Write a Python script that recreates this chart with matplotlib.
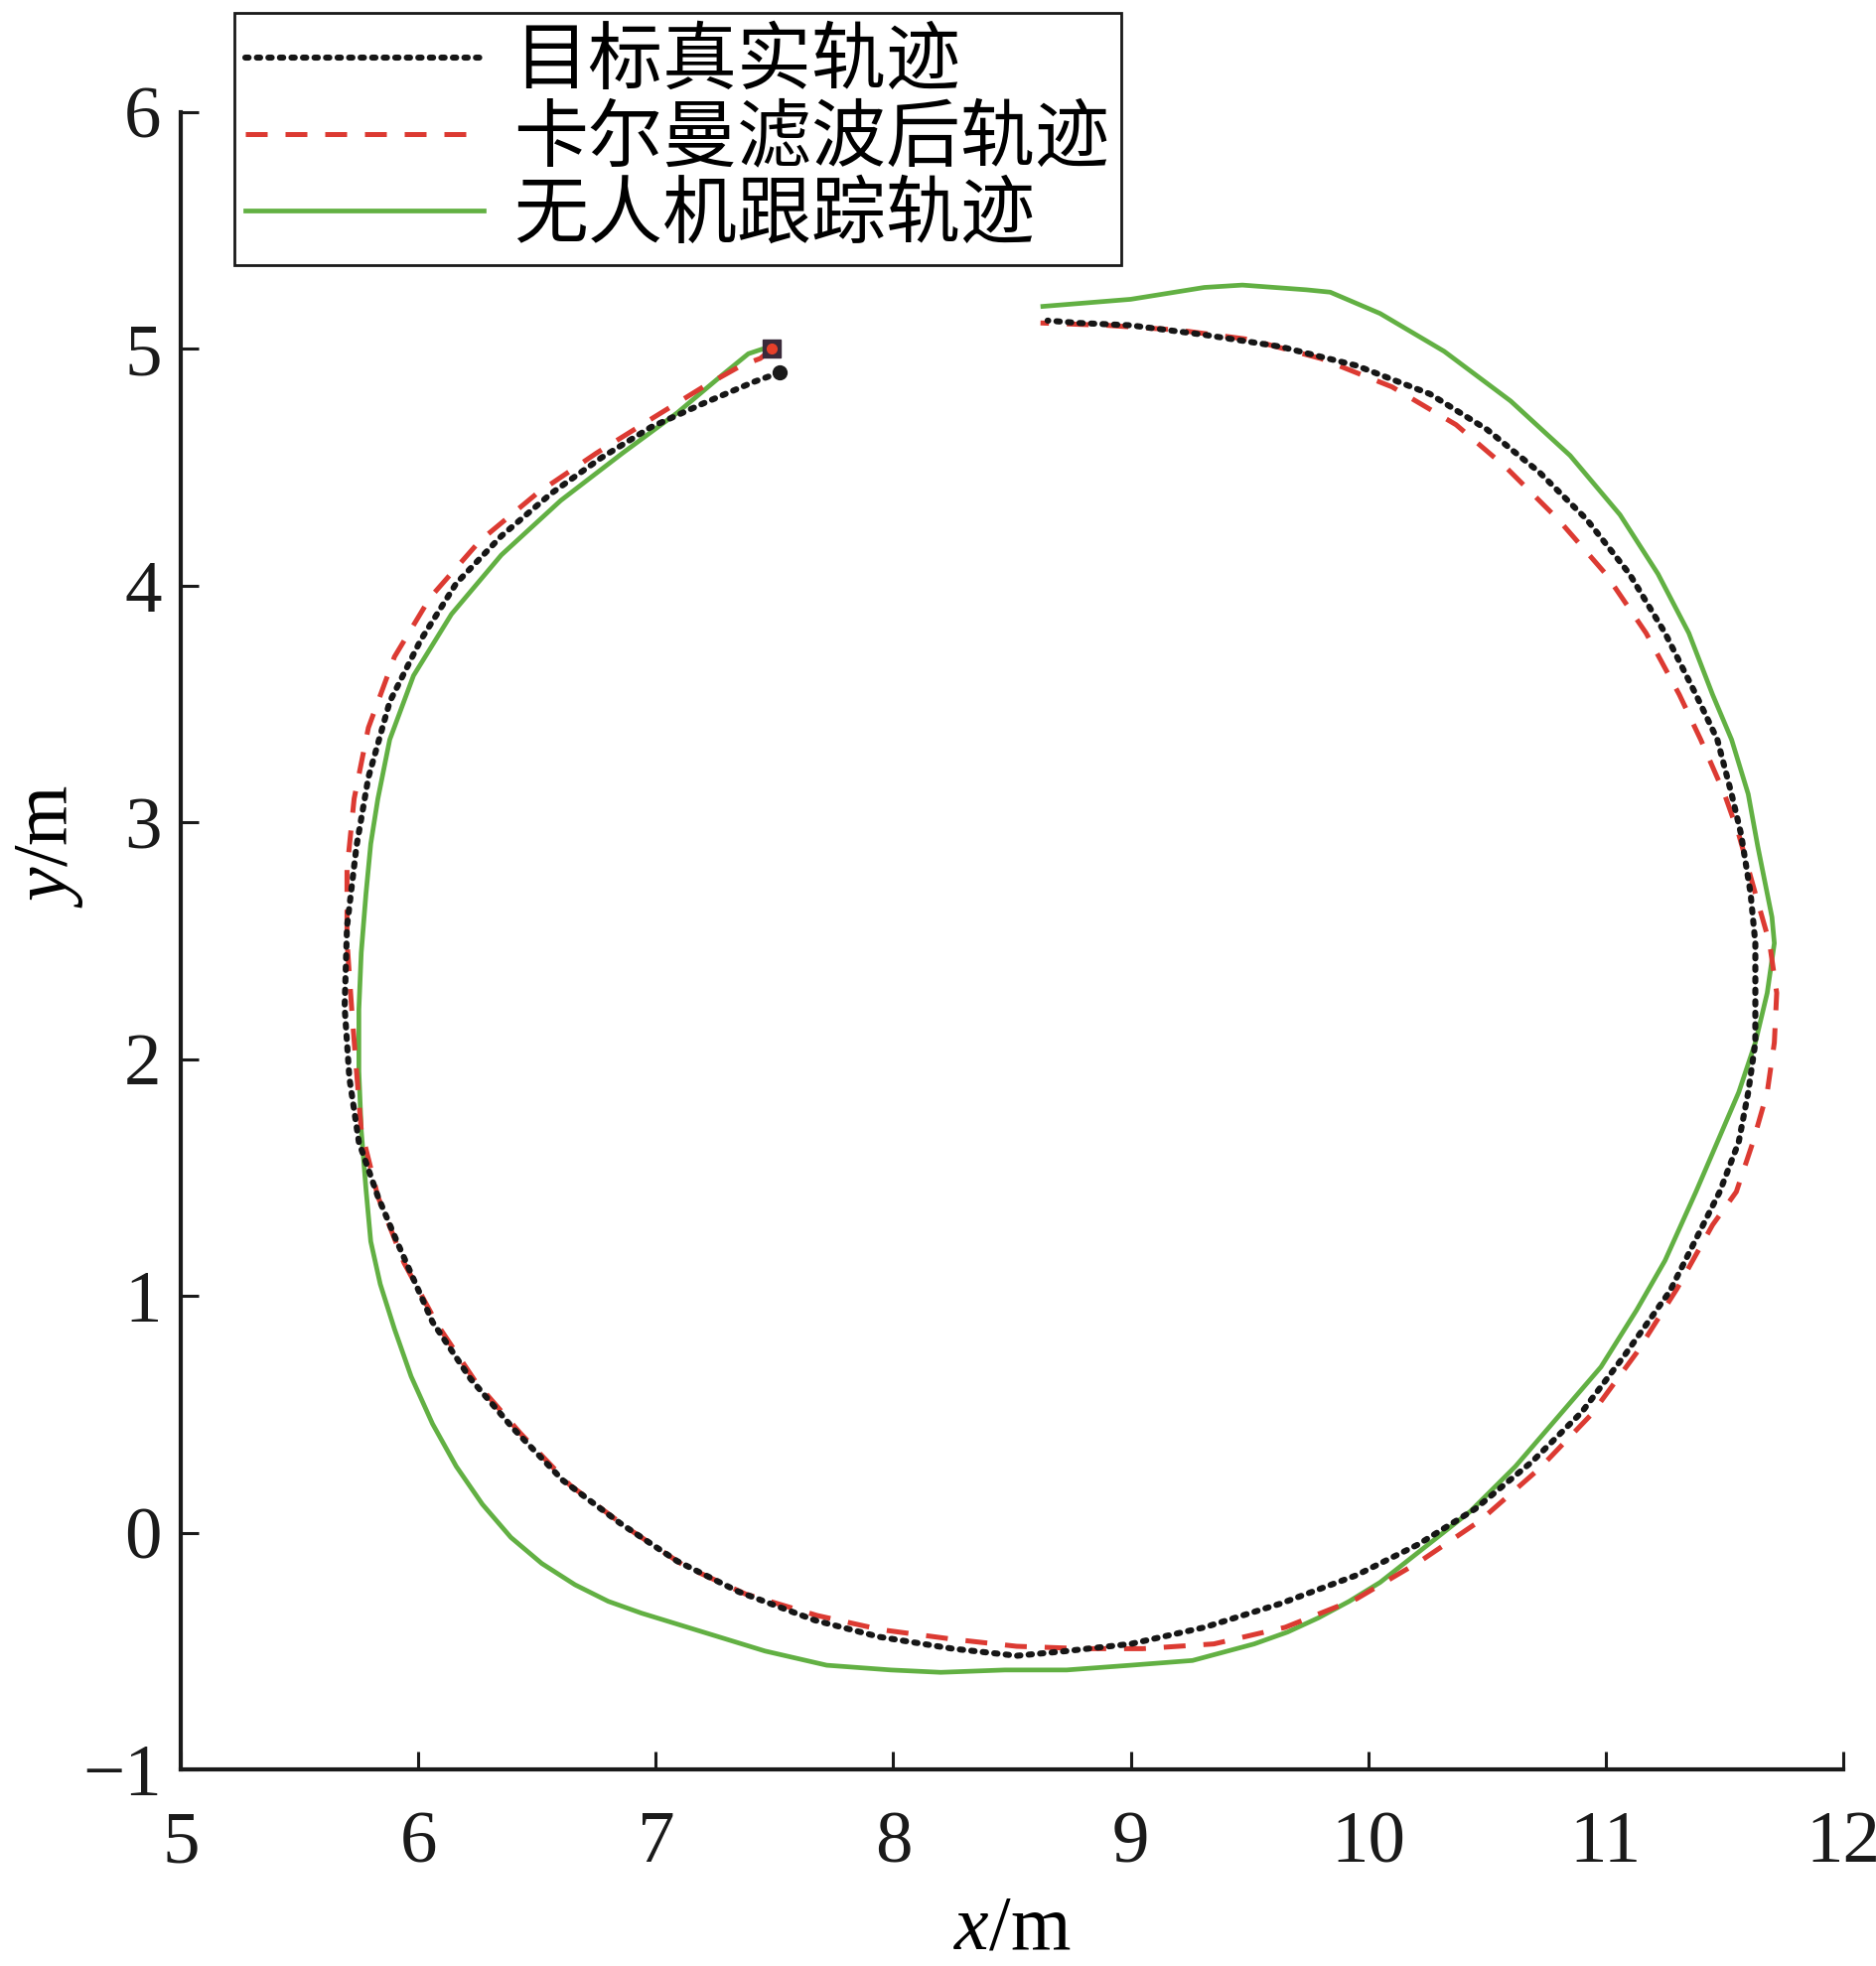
import matplotlib
matplotlib.use("Agg")
import matplotlib.pyplot as plt
import numpy as np

plt.rcParams['font.family'] = ['Liberation Serif', 'DejaVu Serif']
plt.rcParams['mathtext.fontset'] = 'custom'
plt.rcParams['mathtext.rm'] = 'Liberation Serif'
plt.rcParams['mathtext.it'] = 'Liberation Serif:italic'

# target true trajectory
true_x = [7.52, 7.41, 7.20, 6.98, 6.77, 6.56, 6.35, 6.16, 6.01, 5.88, 5.79, 5.74, 5.70, 5.69,
          5.71, 5.75, 5.83, 5.91, 6.06, 6.22, 6.40, 6.61, 6.85, 7.09, 7.35, 7.67, 7.94, 8.25,
          8.52, 8.73, 9.00, 9.31, 9.63, 9.95, 10.21, 10.45, 10.69, 10.90, 11.08, 11.27, 11.40,
          11.48, 11.56, 11.60, 11.63, 11.63, 11.63, 11.61, 11.57, 11.53, 11.47, 11.38, 11.25,
          11.10, 10.92, 10.72, 10.50, 10.26, 9.95, 9.63, 9.31, 9.00, 8.78, 8.65]
true_y = [4.90, 4.86, 4.77, 4.67, 4.54, 4.39, 4.21, 4.01, 3.77, 3.51, 3.19, 2.90, 2.56, 2.22,
          1.92, 1.65, 1.42, 1.23, 0.89, 0.65, 0.44, 0.22, 0.04, -0.12, -0.25, -0.37, -0.44, -0.49,
          -0.52, -0.50, -0.47, -0.40, -0.30, -0.18, -0.05, 0.10, 0.30, 0.51, 0.75, 1.02, 1.28,
          1.44, 1.65, 1.86, 2.07, 2.28, 2.49, 2.70, 2.95, 3.12, 3.35, 3.54, 3.80,
          4.05, 4.28, 4.48, 4.66, 4.81, 4.93, 5.01, 5.06, 5.10, 5.11, 5.12]

# Kalman filtered trajectory
kf_x = [7.49, 7.44, 7.36, 7.20, 6.99, 6.75, 6.50, 6.26, 6.05, 5.90, 5.79, 5.73, 5.70, 5.70,
        5.72, 5.74, 5.76, 5.83, 5.94, 6.08, 6.24, 6.43, 6.64, 6.88, 7.12, 7.38, 7.68, 7.95,
        8.25, 8.52, 8.80, 9.05, 9.35, 9.65, 9.95, 10.22, 10.47, 10.72, 10.94, 11.13, 11.30,
        11.45, 11.55, 11.62, 11.68, 11.71, 11.72, 11.69, 11.63, 11.56, 11.50, 11.40, 11.31,
        11.17, 11.00, 10.80, 10.58, 10.37, 10.10, 9.80, 9.50, 9.20, 8.90, 8.62]
kf_y = [5.00, 4.96, 4.93, 4.84, 4.71, 4.56, 4.39, 4.19, 3.95, 3.70, 3.40, 3.10, 2.80, 2.50,
        2.21, 1.95, 1.70, 1.42, 1.14, 0.88, 0.64, 0.42, 0.20, 0.02, -0.14, -0.26, -0.35, -0.41,
        -0.45, -0.48, -0.49, -0.49, -0.47, -0.40, -0.28, -0.12, 0.05, 0.27, 0.50, 0.76, 1.03,
        1.30, 1.44, 1.65, 1.86, 2.07, 2.28, 2.49, 2.70, 2.95, 3.12, 3.35, 3.54,
        3.80, 4.05, 4.28, 4.50, 4.68, 4.84, 4.96, 5.04, 5.08, 5.10, 5.11]

# UAV tracking trajectory
uav_x = [7.50, 7.45, 7.39, 7.28, 7.09, 6.86, 6.60, 6.35, 6.14, 5.98, 5.88, 5.83, 5.80, 5.78,
         5.76, 5.75, 5.75, 5.76, 5.78, 5.80, 5.84, 5.90, 5.97, 6.06, 6.16, 6.27, 6.39, 6.52,
         6.66, 6.80, 6.94, 7.20, 7.46, 7.72, 7.99, 8.20, 8.47, 8.73, 9.00, 9.26, 9.52, 9.66,
         9.79, 9.92, 10.05, 10.24, 10.43, 10.62, 10.80, 10.98, 11.13, 11.25, 11.38, 11.47,
         11.56, 11.63, 11.68, 11.71, 11.70, 11.68, 11.64, 11.60, 11.53, 11.45, 11.35, 11.22,
         11.06, 10.85, 10.60, 10.32, 10.05, 9.84, 9.74, 9.47, 9.31, 9.00, 8.63]
uav_y = [4.99, 5.00, 4.98, 4.89, 4.73, 4.56, 4.36, 4.13, 3.88, 3.62, 3.35, 3.10, 2.91, 2.70,
         2.45, 2.21, 1.95, 1.70, 1.45, 1.23, 1.05, 0.86, 0.66, 0.46, 0.28, 0.12, -0.02, -0.13,
         -0.22, -0.29, -0.34, -0.42, -0.50, -0.56, -0.58, -0.59, -0.58, -0.58, -0.56, -0.54, -0.47, -0.42,
         -0.36, -0.29, -0.21, -0.06, 0.09, 0.28, 0.49, 0.70, 0.94, 1.15, 1.44, 1.65,
         1.86, 2.07, 2.28, 2.49, 2.60, 2.70, 2.90, 3.12, 3.35, 3.54, 3.80, 4.05,
         4.30, 4.55, 4.78, 4.99, 5.15, 5.24, 5.25, 5.27, 5.26, 5.21, 5.18]

labels = ['目标真实轨迹', '卡尔曼滤波后轨迹', '无人机跟踪轨迹']
x_ticks = [5, 6, 7, 8, 9, 10, 11, 12]
y_ticks = [-1, 0, 1, 2, 3, 4, 5, 6]

fig, ax = plt.subplots(figsize=(18.9, 19.8), dpi=100)
fig.subplots_adjust(left=0.0963, right=0.982, bottom=0.1, top=0.9429)

ax.plot(true_x, true_y, color='#161616', lw=4.4, linestyle=(0, (0.55, 1.35)),
        dash_capstyle='round', label=labels[0], zorder=3)
ax.plot(kf_x, kf_y, color='#dc3a32', lw=3.6, linestyle=(0, (4.4, 3.6)),
        label=labels[1], zorder=2)
ax.plot(uav_x, uav_y, color='#62b043', lw=3.4, label=labels[2], zorder=1)

# start markers
ax.plot(kf_x[0], kf_y[0], marker='s', ms=13, color='#3a2a3a', zorder=4)
ax.plot(kf_x[0], kf_y[0], marker='o', ms=7, color='#e8402a', zorder=5)
ax.plot(true_x[0], true_y[0], marker='o', ms=10, color='#1a1a1a', zorder=4)

ax.set_xlim(5, 12)
ax.set_ylim(-1, 6)
ax.set_xticks(x_ticks)
ax.set_yticks(y_ticks)
ax.set_xticklabels([str(v) for v in x_ticks])
ax.set_yticklabels(['\u22121' if v < 0 else str(v) for v in y_ticks])

for s in ['top', 'right']:
    ax.spines[s].set_visible(False)
for s in ['left', 'bottom']:
    ax.spines[s].set_linewidth(3)
    ax.spines[s].set_color('#1a1a1a')

ax.tick_params(axis='both', direction='in', length=13, width=2.2, colors='#1a1a1a',
               labelsize=54)
ax.tick_params(axis='x', pad=30)
ax.tick_params(axis='y', pad=14)

ax.set_xlabel('$x$/m', fontsize=56)
ax.xaxis.set_label_coords(0.5, -0.108)
ax.xaxis.label.set_verticalalignment('baseline')
ax.set_ylabel('$y$/m', fontsize=56)
ax.yaxis.set_label_coords(-0.079, 0.557)
ax.yaxis.label.set_verticalalignment('center')

leg = ax.legend(loc='upper left', bbox_to_anchor=(236 / 1890, 1 - 13 / 1980),
                bbox_transform=fig.transFigure, borderaxespad=0,
                prop={'family': ['Noto Sans CJK SC', 'DejaVu Sans'], 'size': 54},
                handlelength=3.2, handletextpad=0.4, labelspacing=0.0,
                borderpad=0.15, fancybox=False, framealpha=1)
leg.get_frame().set_edgecolor('#1a1a1a')
leg.get_frame().set_linewidth(2)

fig.savefig('out.png', dpi=100, facecolor='white')
